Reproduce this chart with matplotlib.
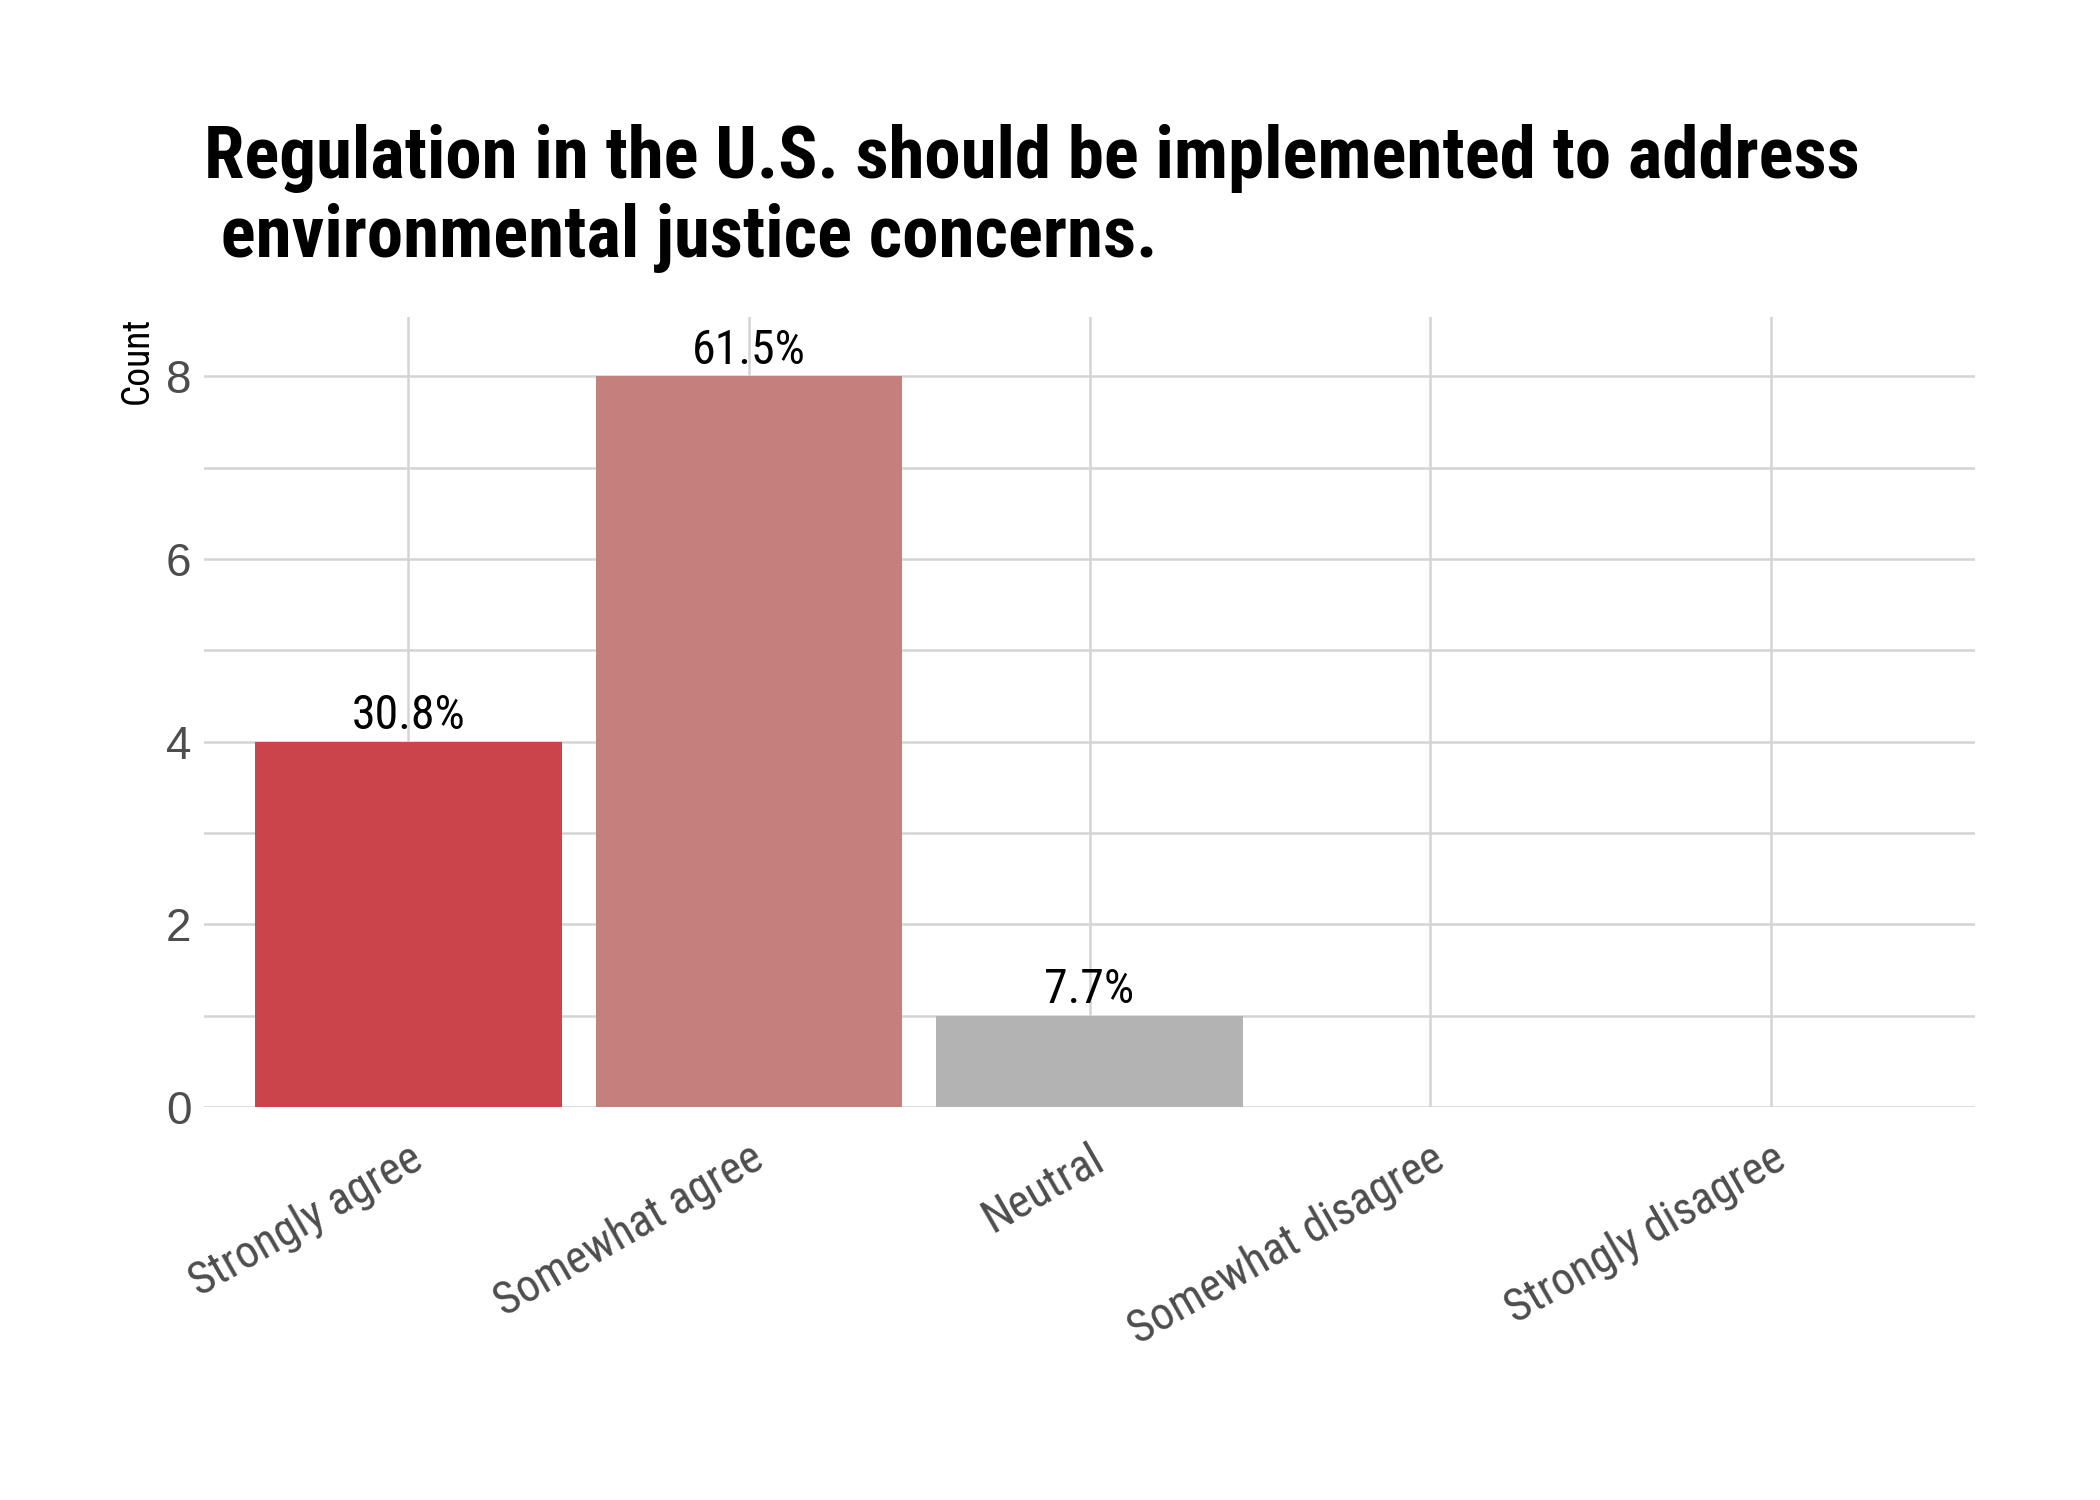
import matplotlib
matplotlib.use("Agg")
import matplotlib.pyplot as plt
from matplotlib import font_manager


categories = ["Strongly agree", "Somewhat agree", "Neutral",
              "Somewhat disagree", "Strongly disagree"]
counts = [4, 8, 1, 0, 0]
pct_labels = ["30.8%", "61.5%", "7.7%", None, None]
bar_colors = ["#CC444B", "#C57F7D", "#B3B3B3", "#B3B3B3", "#B3B3B3"]

title = ("Regulation in the U.S. should be implemented to address\n"
         " environmental justice concerns.")

installed = {f.name for f in font_manager.fontManager.ttflist}
narrow = "Liberation Sans Narrow" if "Liberation Sans Narrow" in installed else "Roboto Condensed"
if narrow not in installed:
    narrow = "DejaVu Sans"

plt.rcParams["font.family"] = [narrow, "DejaVu Sans"]

fig = plt.figure(figsize=(7, 5), dpi=300)
ax = fig.add_axes([204 / 2100, 1 - 1107 / 1500, (1975 - 204) / 2100, (1107 - 317) / 1500])

x = list(range(1, len(categories) + 1))
ax.bar(x, counts, width=0.9, color=bar_colors, zorder=2)

for xi, c, lab in zip(x, counts, pct_labels):
    if lab:
        ax.text(xi, c + 0.03, lab, ha="center", va="bottom",
                fontsize=11.5, color="black", zorder=3)

ax.set_xlim(0.4, 5.6)
ax.set_ylim(0, 8.65)
ax.set_yticks([0, 2, 4, 6, 8])
ax.set_yticks([1, 3, 5, 7], minor=True)
ax.set_xticks(x)
ax.set_xticklabels(categories, rotation=30, ha="right", va="top",
                   rotation_mode="anchor", fontsize=11, color="#4D4D4D")
for t in ax.get_yticklabels():
    t.set_fontfamily(["Liberation Sans", "DejaVu Sans"])
    t.set_fontsize(11)
    t.set_color("#4D4D4D")

ax.tick_params(axis="both", which="both", length=0)
ax.tick_params(axis="x", pad=7)
ax.tick_params(axis="y", pad=3)
ax.grid(True, which="major", color="#D4D4D4", linewidth=0.6, zorder=0)
ax.grid(True, which="minor", axis="y", color="#D4D4D4", linewidth=0.6, zorder=0)
for s in ax.spines.values():
    s.set_visible(False)

ax.set_ylabel("Count", fontsize=9, color="black", loc="top", labelpad=2.5)

fig.text(204 / 2100, 1 - 124 / 1500, title, ha="left", va="top",
         fontsize=17.5, fontweight="bold", color="black", linespacing=1.18)

fig.savefig("out.png", dpi=300)
plt.close(fig)
